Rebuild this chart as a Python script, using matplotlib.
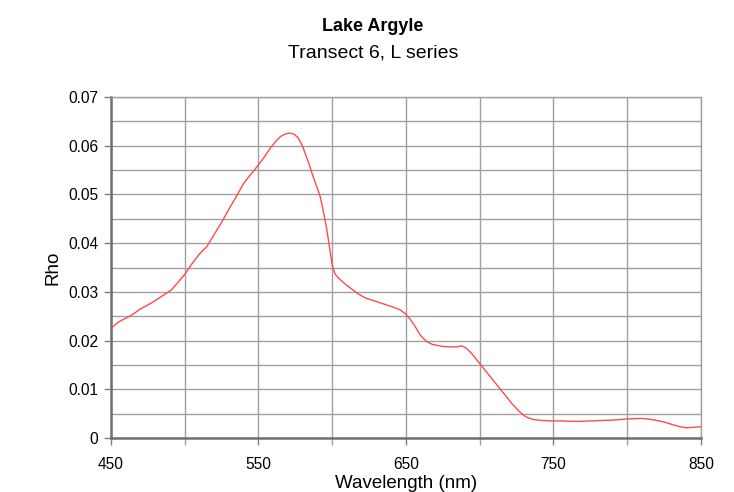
import matplotlib
matplotlib.use("Agg")
import matplotlib.pyplot as plt
from matplotlib.ticker import MultipleLocator

plt.rcParams["font.family"] = ["Liberation Sans", "DejaVu Sans"]

# Reflectance spectrum, transect 6 (L series)
wavelength = [450, 455, 460, 464, 470, 475, 480, 485, 491, 495,
              500, 505, 510, 515, 520, 526, 530, 535, 540, 545,
              549, 553, 558, 562, 565, 568, 571, 574, 577, 580,
              584, 587, 590, 592, 594, 596, 598, 600, 602, 605,
              610, 614, 618, 623, 628, 635, 640, 646, 650, 653,
              656, 660, 664, 668, 675, 680, 684, 688, 691, 694,
              697, 700, 705, 709, 714, 718, 722, 727, 731, 736,
              742, 748, 755, 766, 775, 784, 792, 800, 806, 811,
              816, 820, 826, 831, 836, 840, 845, 850]
rho = [0.0225, 0.0238, 0.0246, 0.0252, 0.0265, 0.0273, 0.0282, 0.0292, 0.0304, 0.0318,
       0.0336, 0.0358, 0.0378, 0.0393, 0.0418, 0.0448, 0.0470, 0.0496, 0.0523, 0.0542,
       0.0557, 0.0573, 0.0595, 0.0610, 0.0619, 0.0624, 0.0626, 0.0624, 0.0616, 0.0598,
       0.0565, 0.0537, 0.0512, 0.0494, 0.0465, 0.0434, 0.0395, 0.0355, 0.0336, 0.0326,
       0.0313, 0.0304, 0.0295, 0.0287, 0.0282, 0.0275, 0.0270, 0.0263, 0.0254, 0.0243,
       0.0230, 0.0210, 0.0198, 0.0192, 0.0188, 0.0187, 0.0187, 0.0189, 0.0184, 0.0175,
       0.0164, 0.0153, 0.0134, 0.0119, 0.0100, 0.0085, 0.0070, 0.0054, 0.0044, 0.0038,
       0.0036, 0.0035, 0.0035, 0.0034, 0.0035, 0.0036, 0.0037, 0.0039, 0.0040, 0.0040,
       0.0038, 0.0036, 0.0032, 0.0027, 0.0023, 0.0021, 0.0022, 0.0023]

x_labels = [450, 550, 650, 750, 850]
y_labels = [0, 0.01, 0.02, 0.03, 0.04, 0.05, 0.06, 0.07]

fig = plt.figure(figsize=(7.34, 4.92), dpi=100)
ax = fig.add_axes([0.1512, 0.1098, 0.8038, 0.693])

ax.plot(wavelength, rho, color="#ff4a4a", linewidth=1.0, zorder=3)

ax.set_xlim(450, 850)
ax.set_ylim(0, 0.07)

# labels every 100 nm, grid every 50 nm
ax.set_xticks(x_labels)
ax.set_xticklabels([str(v) for v in x_labels])
ax.xaxis.set_minor_locator(MultipleLocator(50))
ax.set_yticks(y_labels)
ax.set_yticklabels(["0"] + ["%.2f" % v for v in y_labels[1:]])
ax.yaxis.set_minor_locator(MultipleLocator(0.005))

ax.grid(which="both", color="#a0a0a0", linewidth=1.0)
ax.set_axisbelow(True)

ax.tick_params(axis="both", which="major", length=5, width=1, color="#808080",
               labelsize=11.2)
ax.tick_params(axis="x", which="major", pad=9)
ax.tick_params(axis="y", which="major", pad=4)
ax.tick_params(axis="x", which="minor", length=5, width=1, color="#a0a0a0")
ax.tick_params(axis="y", which="minor", length=0)

for side in ["left", "bottom"]:
    ax.spines[side].set_color("#707070")
    ax.spines[side].set_linewidth(1.8)
for side in ["top", "right"]:
    ax.spines[side].set_color("#a0a0a0")
    ax.spines[side].set_linewidth(1.0)

ax.set_xlabel("Wavelength (nm)", fontsize=13.5, labelpad=2)
ax.set_ylabel("Rho", fontsize=13.5, labelpad=5)

fig.text(0.508, 0.946, "Lake Argyle", ha="center", va="center",
         fontsize=13, fontweight="bold")
fig.text(0.508, 0.892, "Transect 6, L series", ha="center", va="center",
         fontsize=14)

fig.savefig("out.png", dpi=100)
